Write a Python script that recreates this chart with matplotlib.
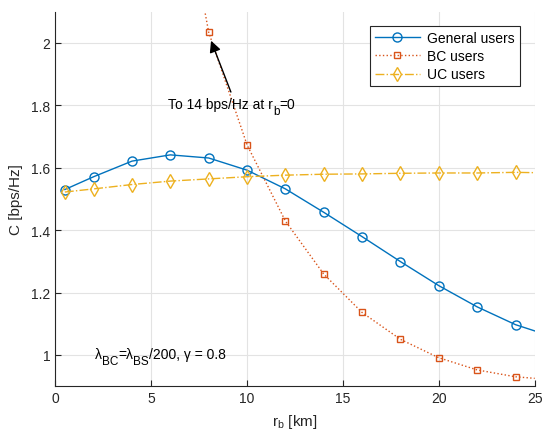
import numpy as np
import matplotlib
matplotlib.use("Agg")
import matplotlib.pyplot as plt

plt.rcParams['font.family'] = ['Liberation Sans', 'DejaVu Sans']

# data
r_marks = [0.5, 2, 4, 6, 8, 10, 12, 14, 16, 18, 20, 22, 24]
general = [1.530, 1.571, 1.621, 1.641, 1.631, 1.592, 1.532, 1.457, 1.379, 1.299, 1.222, 1.154, 1.097]
uc = [1.522, 1.532, 1.546, 1.557, 1.564, 1.571, 1.576, 1.579, 1.580, 1.582, 1.583, 1.583, 1.585]
r_bc = [8, 10, 12, 14, 16, 18, 20, 22, 24]
bc = [2.034, 1.673, 1.429, 1.259, 1.136, 1.050, 0.991, 0.952, 0.930]

# line continuation points (beyond the markers)
general_end = 1.077
uc_end = 1.584
bc_end = 0.925
bc_top_r = 7.5
bc_top = 2.20

c_gen = '#0072BD'
c_bc = '#D95319'
c_uc = '#EDB120'
c_txt = '#262626'


def sub_text(ax, x, y, parts, fontsize=10, color='black'):
    # text with matlab-like subscripts, pieces chained one after another
    first = ax.text(x, y, parts[0][0], fontsize=fontsize, va='center', ha='left', color=color)
    prev = first
    for s, sub in parts[1:]:
        prev = ax.annotate(s, xy=(1, 0), xycoords=(prev, first),
                           xytext=(0, -4.0 if sub else 0), textcoords='offset points',
                           fontsize=fontsize * 0.85 if sub else fontsize,
                           va='bottom', ha='left', color=color)
    return first


fig = plt.figure(figsize=(5.42, 4.35), dpi=100)
ax = fig.add_axes([0.102, 0.110, 0.8845, 0.861])

ax.plot(r_marks + [25], general + [general_end], '-', color=c_gen, lw=1.0)
ax.plot(r_marks, general, 'o', color=c_gen, mfc='none', ms=6.5, mew=1.0)
ax.plot([bc_top_r] + r_bc + [25], [bc_top] + bc + [bc_end], ':', color=c_bc, lw=1.0)
ax.plot(r_bc, bc, 's', color=c_bc, mfc='none', ms=4.8, mew=1.0)
ax.plot(r_marks + [25], uc + [uc_end], '-.', color=c_uc, lw=1.0)
ax.plot(r_marks, uc, 'd', color=c_uc, mfc='none', ms=7.5, mew=1.0)

# legend proxies
h1, = ax.plot([], [], '-o', color=c_gen, mfc='none', ms=6.5, lw=1.0, label='General users')
h2, = ax.plot([], [], ':s', color=c_bc, mfc='none', ms=4.8, lw=1.0, label='BC users')
h3, = ax.plot([], [], '-.d', color=c_uc, mfc='none', ms=7.5, lw=1.0, label='UC users')
leg = ax.legend(handles=[h1, h2, h3], loc='upper right', bbox_to_anchor=(0.969, 0.961),
                borderaxespad=0, fontsize=10, fancybox=False, framealpha=1,
                edgecolor=c_txt, handlelength=3.3, labelspacing=0.3,
                borderpad=0.35, handletextpad=0.5)
leg.get_frame().set_linewidth(0.8)

ax.annotate('', xy=(8.07, 2.015), xytext=(9.21, 1.834),
            arrowprops=dict(arrowstyle='-|>', color='black', lw=1.0, mutation_scale=17))
sub_text(ax, 5.88, 1.803, [('To 14 bps/Hz at r', False), ('b', True), ('=0', False)])
sub_text(ax, 2.07, 1.003, [('λ', False), ('BC', True), ('=λ', False), ('BS', True),
                           ('/200, γ = 0.8', False)])

ax.set_xlim(0, 25)
ax.set_ylim(0.9, 2.1)
ax.set_xticks([0, 5, 10, 15, 20, 25])
ax.set_yticks([1, 1.2, 1.4, 1.6, 1.8, 2])
ax.set_yticklabels(['1', '1.2', '1.4', '1.6', '1.8', '2'])
ax.grid(True, color='#e3e3e3', lw=0.8)
ax.set_axisbelow(True)
ax.tick_params(direction='in', length=4, colors=c_txt, labelsize=10, width=0.8)
ax.spines['top'].set_visible(False)
ax.spines['right'].set_visible(False)
ax.spines['left'].set_color(c_txt)
ax.spines['bottom'].set_color(c_txt)
ax.set_xlabel(r'r$_\mathregular{b}$ [km]', fontsize=11, color=c_txt, labelpad=5)
ax.set_ylabel('C [bps/Hz]', fontsize=11, color=c_txt, labelpad=6)

fig.savefig('out.png', dpi=100)
